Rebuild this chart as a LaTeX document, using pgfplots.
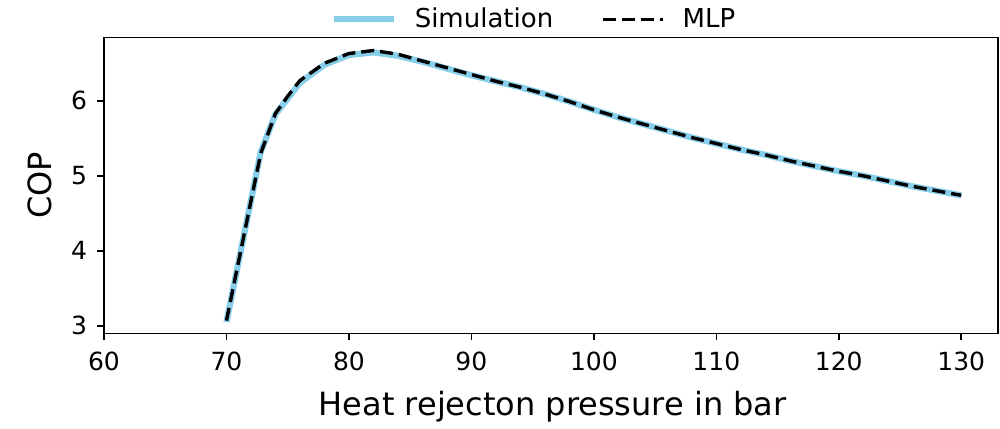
\documentclass[border=0pt]{standalone}
\usepackage{fontspec}
\setmainfont{DejaVu Sans}
\usepackage{pgfplots}
\pgfplotsset{compat=1.18}
\definecolor{skyblue}{HTML}{87CEEB}
\pgfplotsset{my legend line/.style={legend image code/.code={\draw[##1] (0pt,0pt) -- (30pt,0pt); \path (37pt,0pt);}}}
\begin{document}
\begin{tikzpicture}
\begin{axis}[
  name=ax,
  scale only axis,
  width=447pt, height=148pt,
  xmin=60, xmax=133, ymin=2.9, ymax=6.845,
  xtick={60,70,80,90,100,110,120,130},
  ytick={3,4,5,6},
  tick align=outside,
  major tick length=3.5pt,
  tick style={line width=0.8pt, black},
  axis line style={line width=0.8pt},
  xtick pos=bottom, ytick pos=left,
  /pgf/number format/assume math mode=true,
  ticklabel style={font=\fontsize{12.5pt}{14pt}\selectfont},
  xticklabel style={yshift=-2pt},
  yticklabel style={xshift=-1.5pt},
  xlabel={Heat rejecton pressure in bar},
  ylabel={COP},
  xlabel style={font=\fontsize{16pt}{18pt}\selectfont, at={(axis description cs:0.502,0)}, anchor=base, yshift=-41pt},
  ylabel style={font=\fontsize{16pt}{18pt}\selectfont, at={(axis description cs:0,0.5)}, anchor=center, yshift=32pt},
  legend style={at={(axis description cs:0.482,1)}, anchor=center, yshift=9pt, draw=none, fill=none,
    font=\fontsize{13pt}{15pt}\selectfont, legend columns=2,
    /tikz/every even column/.append style={column sep=22pt}},
  legend cell align=left,
  my legend line,
]
\addplot[color=skyblue, line width=3.1pt, line join=round] coordinates {
(70,3.05) (72.8,5.32) (74,5.82) (75,6.03) (76,6.24) (78,6.48) (80,6.61) (82,6.645)
(84,6.60) (86,6.52) (88,6.43) (90,6.34) (92,6.26) (94,6.18) (96,6.09) (98,5.99)
(100,5.88) (102,5.78) (104,5.69) (106,5.60) (108,5.51) (110,5.43) (112,5.35)
(114,5.28) (116,5.20) (118,5.13) (120,5.06) (122,5.00) (124,4.93) (126,4.86)
(128,4.80) (130,4.74)};
\addlegendentry{Simulation}
\addplot[color=black, line width=1.7pt, dash pattern=on 6.5pt off 3pt] coordinates {
(70,3.07) (72.8,5.30) (74,5.83) (75,6.06) (76,6.27) (78,6.50) (80,6.63) (82,6.67)
(84,6.62) (86,6.53) (88,6.44) (90,6.35) (92,6.26) (94,6.18) (96,6.09) (98,5.99)
(100,5.88) (102,5.78) (104,5.69) (106,5.60) (108,5.51) (110,5.43) (112,5.35)
(114,5.28) (116,5.20) (118,5.13) (120,5.06) (122,5.00) (124,4.93) (126,4.86)
(128,4.80) (130,4.74)};
\addlegendentry{MLP}
\end{axis}
\path[use as bounding box] ([xshift=-52pt,yshift=-44pt]ax.south west) rectangle ([xshift=1pt,yshift=18.5pt]ax.north east);
\end{tikzpicture}
\end{document}
